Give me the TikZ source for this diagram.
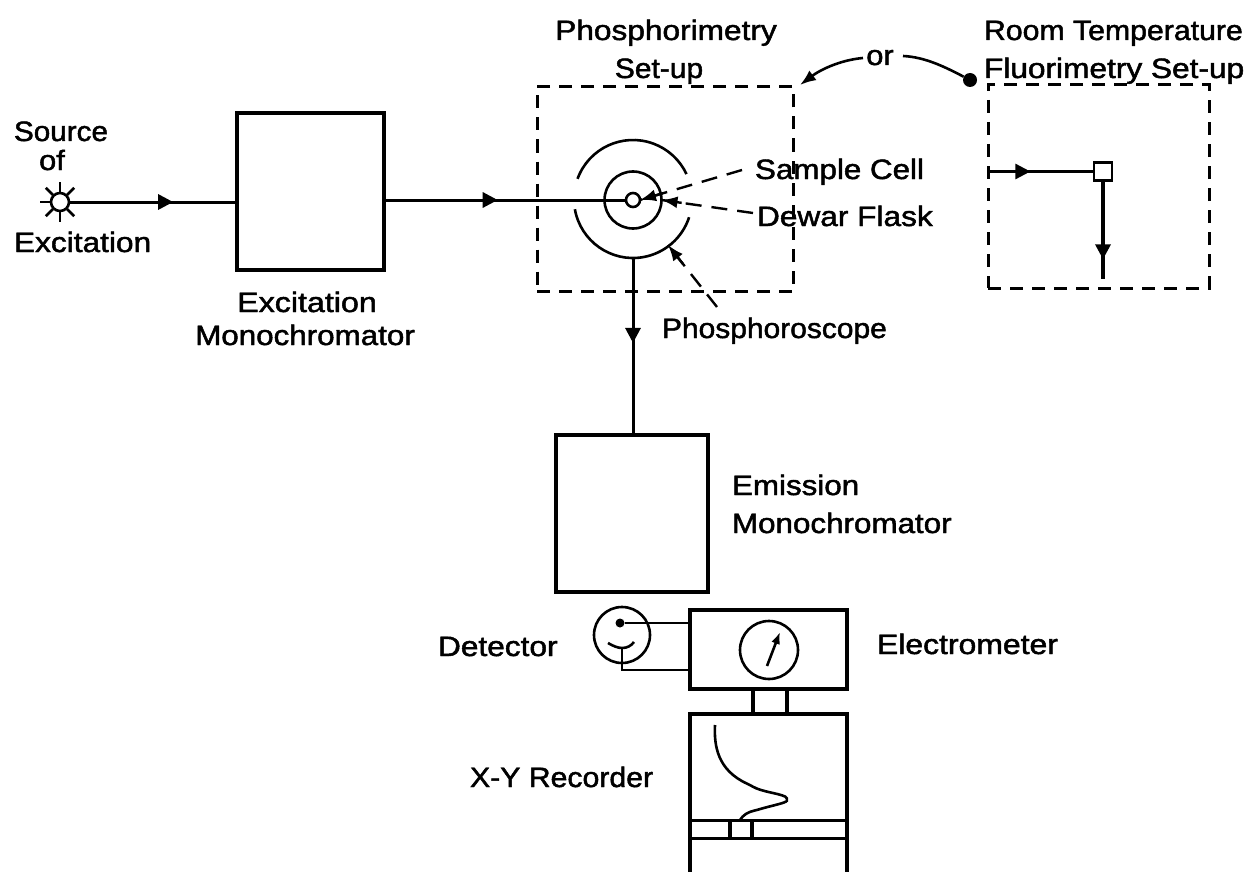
\documentclass[tikz,border=0pt]{standalone}
\usepackage{fontspec}
\setmainfont[RawFeature={embolden=1.6}]{Liberation Sans}
\usetikzlibrary{arrows.meta,decorations.markings,calc}
\newcommand{\sx}[2]{\scalebox{#1}[1]{#2}}
\tikzset{
  x=1pt,y=-1pt,
  line/.style={line width=3pt,black},
  thinline/.style={line width=2.6pt,black},
  dash box/.style={draw,line width=3pt,dash pattern=on 13pt off 9pt,inner sep=0,outer sep=0},
  solidbox/.style={draw,line width=3.2pt,inner sep=0,outer sep=0},
  ring/.style={draw,circle,line width=2.6pt,inner sep=0,outer sep=0},
  leader/.style={line width=2.4pt,dash pattern=on 16pt off 10pt},
  label/.style={anchor=base west,inner sep=0,outer sep=0,font=\fontsize{28}{28}\selectfont},
  clabel/.style={anchor=base,inner sep=0,outer sep=0,font=\fontsize{28}{28}\selectfont},
  arrowat/.style={decoration={markings,mark=at position #1 with {\arrow{Triangle[length=15pt,width=15pt]}}},postaction={decorate}},
  tip/.style={-{Latex[length=16pt,width=12pt]}}
}
\begin{document}
\begin{tikzpicture}
\useasboundingbox[fill=white] (0,0) rectangle (1247,872);

% boxes
\node[solidbox,minimum width=147pt,minimum height=157pt] (exbox) at (310.5,191.5) {};
\node[solidbox,minimum width=152pt,minimum height=157pt] (embox) at (632,513.5) {};
\node[solidbox,minimum width=157pt,minimum height=79pt] (elbox) at (768.5,649.5) {};
\node[dash box,minimum width=256pt,minimum height=205pt] (phos) at (665,189) {};
\node[dash box,minimum width=221pt,minimum height=203pt] (fluo) at (1098.5,186.5) {};

% source
\node[ring,minimum size=18pt] (star) at (60,202) {};
\foreach \a in {0,45,...,315}{
  \draw[line width=2.6pt] ($(star)+(\a:10)$) -- ($(star)+(\a:20)$);
}
\draw[line] (star.east) -- (star.east -| exbox.west) [arrowat=0.62];

% sample cell and rings
\node[ring,minimum size=14pt] (cell) at (633,200) {};
\node[ring,minimum size=57pt] (dewar) at (633,200) {};
\coordinate (scope) at (633,199);
\draw[line width=2.6pt] (scope) ++(-160:59) arc[start angle=-160,end angle=-25,radius=59];
\draw[line width=2.6pt] (scope) ++(170:59) arc[start angle=170,end angle=18,radius=59];
\coordinate (scopebot) at (633,258);
\draw[line] (exbox.east |- cell.west) -- (cell.west) [arrowat=0.47];
\draw[line] (scopebot) -- (scopebot |- embox.north) [arrowat=0.48];

% leaders
\coordinate (samplefree) at (742,170);
\coordinate (dewarfree) at (753,213);
\coordinate (phosfree) at (717,307);
\coordinate (phoshead) at (668,245);
\draw[leader] (samplefree) -- (cell.east);
\draw[tip,line width=2.4pt] ($(cell.east)!0.22!(samplefree)$) -- (cell.east);
\draw[leader] (dewarfree) -- (dewar.east);
\draw[tip,line width=2.4pt] ($(dewar.east)!0.22!(dewarfree)$) -- (dewar.east);
\draw[leader] (phosfree) -- (phoshead);
\draw[tip,line width=2.4pt] ($(phoshead)!0.3!(phosfree)$) -- (phoshead);

% "or" links
\node[clabel] (or) at (880,65) {\sx{1.1}{or}};
\coordinate (orleft) at (863,58);
\coordinate (orright) at (903,56);
\coordinate (leftend) at (800,85);
\node[circle,fill=black,inner sep=0,minimum size=14pt] (rightdot) at (970,80) {};
\draw[line width=2.6pt,tip] (orleft) .. controls (840,60) and (820,70) .. (leftend);
\draw[line width=2.6pt] (orright) .. controls (925,57) and (945,67) .. (rightdot);

% fluorimetry set-up
\node[draw,line width=2.6pt,minimum size=18pt,inner sep=0,outer sep=0] (fcell) at (1103,171.5) {};
\draw[thinline] (fcell.west -| fluo.west) -- (fcell.west) [arrowat=0.40];
\coordinate (fend) at (1103,279);
\draw[line width=3.4pt] (fcell.south) -- (fend) [arrowat=0.80];

% detector, electrometer
\node[ring,minimum size=56pt] (det) at (622,635) {};
\node[circle,fill=black,inner sep=0,minimum size=9pt] (detdot) at (620,623) {};
\draw[thinline] (detdot) -- (detdot -| elbox.west);
\coordinate (yjoin) at (622,648);
\coordinate (yleft) at (608,643);
\coordinate (yright) at (634,642);
\coordinate (ybot) at (622,670);
\draw[thinline] (yleft) .. controls (613,646) and (618,648) .. (yjoin) .. controls (627,648) and (631,646) .. (yright);
\draw[thinline] (yjoin) -- (ybot) -- (ybot -| elbox.west);
\node[ring,minimum size=58pt] (meter) at (769,650) {};
\coordinate (needlea) at (767,666);
\coordinate (needleb) at (780,632);
\draw[thinline,-{Latex[length=12pt,width=9pt]}] (needlea) -- (needleb);

% recorder
\coordinate (rtl) at (690,714);
\coordinate (rtr) at (847,714);
\coordinate (rbl) at (690,872);
\coordinate (rbr) at (847,872);
\draw[line width=3.2pt] (rbl) -- (rtl) -- (rtr) -- (rbr);
\coordinate (l1a) at (753,714);
\coordinate (l2a) at (787,714);
\draw[line width=3.6pt] (l1a |- elbox.south) -- (l1a);
\draw[line width=4.4pt] (l2a |- elbox.south) -- (l2a);
\coordinate (b1) at (690,820);
\coordinate (b2) at (690,838);
\draw[line width=3pt] (b1) -- (b1 -| rtr);
\draw[line width=3pt] (b2) -- (b2 -| rtr);
\coordinate (s1) at (730,820);
\coordinate (s2) at (752,820);
\draw[line width=3.2pt] (s1) -- (s1 |- b2);
\draw[line width=4.4pt] (s2) -- (s2 |- b2);
\draw[line width=2.6pt,rounded corners=3pt] (715,725) .. controls (714,745) and (717,770) .. (750,785)
  .. controls (762,792) and (778,793) .. (788,798) .. controls (786,803) and (770,806) .. (757,810) .. controls (748,812) and (743,815) .. (740,820);

% labels
\node[clabel] (t1) at (61,141) {\sx{1.06}{Source}};
\node[clabel] (t2) at (52,170) {\sx{1.1}{of}};
\node[label] (t3) at (14,252) {\sx{1.13}{Excitation}};
\node[clabel] (t4) at (307,312) {\sx{1.15}{Excitation}};
\node[clabel] (t5) at (305,345) {\sx{1.12}{Monochromator}};
\node[clabel] (t6) at (666,40) {\sx{1.13}{Phosphorimetry}};
\node[clabel] (t7) at (659,78) {\sx{1.07}{Set-up}};
\node[label] (t8) at (984,40) {\sx{1.08}{Room Temperature}};
\node[label] (t9) at (984,78) {\sx{1.13}{Fluorimetry Set-up}};
\node[label] (t10) at (755,179) {\sx{1.12}{Sample Cell}};
\node[label] (t11) at (757,226) {\sx{1.13}{Dewar Flask}};
\node[label] (t12) at (662,338) {\sx{1.07}{Phosphoroscope}};
\node[label] (t13) at (732,495) {\sx{1.12}{Emission}};
\node[label] (t14) at (732,533) {\sx{1.12}{Monochromator}};
\node[label] (t15) at (438,656) {\sx{1.13}{Detector}};
\node[label] (t16) at (877,654) {\sx{1.14}{Electrometer}};
\node[label] (t17) at (470,787) {\sx{1.08}{X-Y Recorder}};
\end{tikzpicture}
\end{document}
